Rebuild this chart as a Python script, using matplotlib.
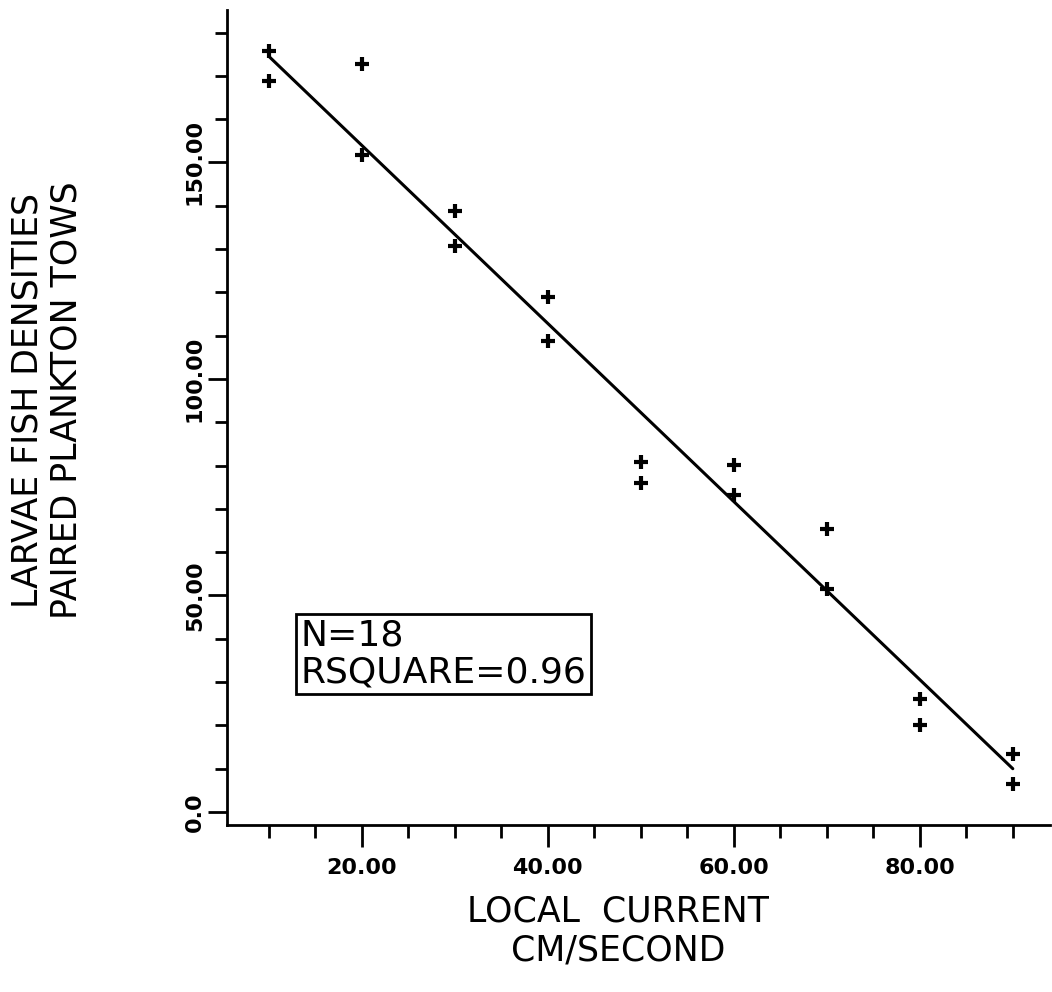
import matplotlib
matplotlib.use("Agg")
import matplotlib.pyplot as plt
import numpy as np

# Data
current = [10, 10, 20, 20, 30, 30, 40, 40, 50, 50, 60, 60, 70, 70, 80, 80, 90, 90]
density = [175.7, 168.8, 172.7, 151.7, 138.8, 130.7, 118.9, 108.8, 80.8, 76.0,
           80.1, 73.2, 65.4, 51.5, 26.1, 20.1, 13.4, 6.5]
fit_x = [10, 90]
fit_y = [174.5, 10.0]

xmajor = [20, 40, 60, 80]
xmajor_labels = ["20.00", "40.00", "60.00", "80.00"]
xminor = [10, 15, 25, 30, 35, 45, 50, 55, 65, 70, 75, 85, 90]
ymajor = [0, 50, 100, 150]
ymajor_labels = ["0.0", "50.00", "100.00", "150.00"]
yminor = [10, 20, 30, 40, 60, 70, 80, 90, 110, 120, 130, 140, 160, 170, 180]

stats_text = "N=18\nRSQUARE=0.96"
xlabel = "LOCAL  CURRENT\nCM/SECOND"
ylabel = "LARVAE FISH DENSITIES\nPAIRED PLANKTON TOWS"

fig = plt.figure(figsize=(10.52, 9.92), dpi=100)
ax = fig.add_axes([227/1052, 1 - 825/992, (1050-227)/1052, (825-10)/992])

ax.plot(fit_x, fit_y, color="black", lw=2.2, solid_capstyle="round")
ax.plot(current, density, linestyle="none", marker="+", color="black",
        markersize=10.5, markeredgewidth=3)

ax.set_xlim(5.5, 94.0)
ax.set_ylim(-3.0, 185.2)

for s in ["top", "right"]:
    ax.spines[s].set_visible(False)
for s in ["left", "bottom"]:
    ax.spines[s].set_linewidth(2.0)

ax.set_xticks(xmajor)
ax.set_xticklabels(xmajor_labels, fontsize=16, fontweight="bold")
ax.set_xticks(xminor, minor=True)
ax.set_yticks(ymajor)
ax.set_yticklabels(ymajor_labels, fontsize=16, fontweight="bold",
                   rotation=90, va="center")
ax.set_yticks(yminor, minor=True)

ax.tick_params(axis="x", which="major", direction="out", length=16, width=2, pad=8)
ax.tick_params(axis="x", which="minor", direction="out", length=9, width=2)
ax.tick_params(axis="y", which="major", direction="out", length=14, width=2, pad=2)
ax.tick_params(axis="y", which="minor", direction="out", length=8.5, width=2)

ax.text(13.4, 36.5, stats_text, fontsize=26, ha="left", va="center",
        linespacing=1.1,
        bbox=dict(boxstyle="square,pad=0.12", facecolor="white",
                  edgecolor="black", linewidth=2))

fig.text(618/1052, 1 - 931/992, xlabel, fontsize=25, ha="center", va="center",
         linespacing=1.15)
fig.text(47/1052, 1 - 400/992, ylabel, fontsize=25, ha="center", va="center",
         rotation=90, linespacing=1.2)

fig.savefig("out.png", dpi=100)
